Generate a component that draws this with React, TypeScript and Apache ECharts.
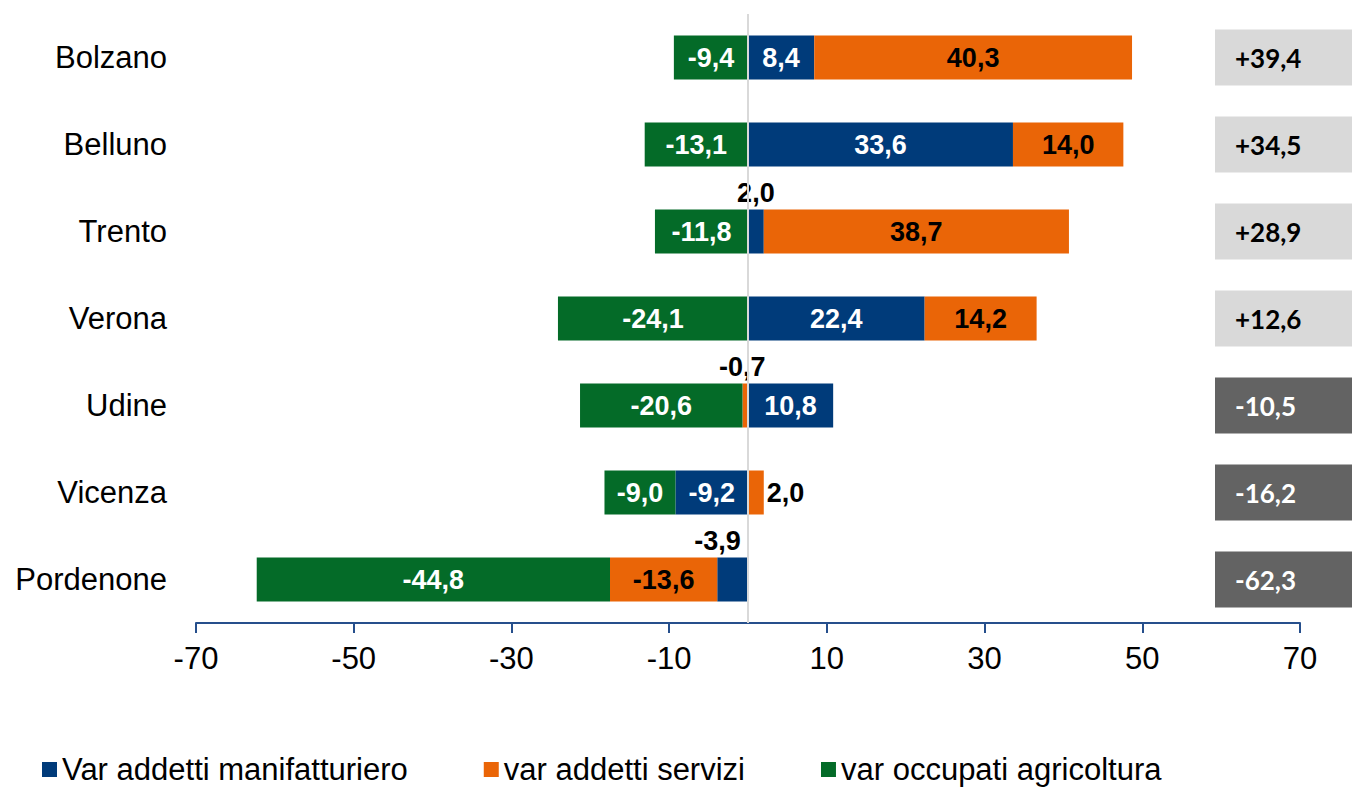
import React, { useEffect, useRef } from "react";
import * as echarts from "echarts";

const categories = ["Bolzano", "Belluno", "Trento", "Verona", "Udine", "Vicenza", "Pordenone"];
const manifatturiero = [8.4, 33.6, 2.0, 22.4, 10.8, -9.2, -3.9];
const servizi = [40.3, 14.0, 38.7, 14.2, -0.7, 2.0, -13.6];
const agricoltura = [-9.4, -13.1, -11.8, -24.1, -20.6, -9.0, -44.8];
const totals = [39.4, 34.5, 28.9, 12.6, -10.5, -16.2, -62.3];
const seriesNames = ["Var addetti manifatturiero", "var addetti servizi", "var occupati agricoltura"];
const xMin = -70;
const xMax = 70;
const xInterval = 20;

const BLUE = "#003B7A";
const ORANGE = "#EA6507";
const GREEN = "#046B28";

const fmt = (v: number) => v.toFixed(1).replace(".", ",");
const fmtTotal = (v: number) => (v > 0 ? "+" : "") + fmt(v);

const ARIAL = "'Liberation Sans', Arial, sans-serif";

// outside-label overrides: series -> index -> label cfg
const outside: Record<string, Record<number, any>> = {
  manif: {
    2: { position: "top", distance: 3, color: "#000" },
    6: { position: "top", distance: 3, color: "#000", offset: [-15, 0] },
  },
  serv: {
    4: { position: "top", distance: 3, color: "#000", offset: [-3, 0] },
    5: { position: "right", distance: 3, color: "#000" },
  },
  agri: {},
};

function buildData(values: number[], key: string) {
  return values.map((v, i) => {
    const o = outside[key][i];
    return o ? { value: v, label: o } : v;
  });
}

export default function App() {
  const ref = useRef<HTMLDivElement>(null);
  useEffect(() => {
    document.body.style.margin = "0";
    const chart = echarts.init(ref.current!, null, { renderer: "svg" });
    const labelBase = {
      show: true,
      position: "inside",
      fontFamily: ARIAL,
      fontWeight: "bold",
      fontSize: 27,
      formatter: (p: any) => fmt(typeof p.value === "number" ? p.value : p.data.value),
    };
    const barCommon = {
      type: "bar",
      stack: "tot",
      barWidth: 44,
      xAxisIndex: 0,
      yAxisIndex: 0,
    };
    chart.setOption({
      animation: false,
      grid: [
        { left: 196, right: 52, top: 14, bottom: 164, containLabel: false },
        { left: 1215, right: 0, top: 14, bottom: 164, containLabel: false },
      ],
      legend: {
        data: seriesNames,
        left: 37,
        top: 749,
        itemWidth: 15,
        itemHeight: 15,
        itemGap: 76,
        icon: "rect",
        textStyle: { fontFamily: ARIAL, fontSize: 31, color: "#000" },
      },
      xAxis: [
        {
          type: "value",
          gridIndex: 0,
          min: xMin,
          max: xMax,
          interval: xInterval,
          axisLine: { show: true, onZero: false, lineStyle: { color: "#264F8C", width: 2 } },
          axisTick: { show: true, length: 10, lineStyle: { color: "#264F8C", width: 2 } },
          splitLine: { show: false },
          axisLabel: { fontFamily: ARIAL, fontSize: 31, color: "#000", margin: 20 },
        },
        { type: "value", gridIndex: 1, min: 0, max: 1, show: false, splitLine: { show: false } },
      ],
      yAxis: [
        {
          type: "category",
          gridIndex: 0,
          data: categories,
          inverse: true,
          axisLine: { show: false, onZero: false },
          axisTick: { show: false },
          axisLabel: { fontFamily: ARIAL, fontSize: 31, color: "#000", margin: 29 },
        },
        { type: "category", gridIndex: 1, data: categories, inverse: true, show: false },
      ],
      series: [
        {
          ...barCommon,
          name: seriesNames[0],
          data: buildData(manifatturiero, "manif"),
          itemStyle: { color: BLUE },
          label: { ...labelBase, color: "#fff" },
        },
        {
          ...barCommon,
          name: seriesNames[1],
          data: buildData(servizi, "serv"),
          itemStyle: { color: ORANGE },
          label: { ...labelBase, color: "#000" },
        },
        {
          ...barCommon,
          name: seriesNames[2],
          data: buildData(agricoltura, "agri"),
          itemStyle: { color: GREEN },
          label: { ...labelBase, color: "#fff" },
          markLine: {
            silent: true,
            symbol: ["none", "none"],
            label: { show: false },
            lineStyle: { color: "#D9D9D9", width: 2, type: "solid" },
            data: [{ xAxis: 0 }],
          },
        },
        {
          type: "bar",
          name: "totale",
          xAxisIndex: 1,
          yAxisIndex: 1,
          barWidth: 56,
          data: totals.map((t) => ({
            value: 1,
            itemStyle: { color: t >= 0 ? "#D9D9D9" : "#636363" },
            label: { color: t >= 0 ? "#000" : "#fff" },
          })),
          label: {
            show: true,
            position: "insideLeft",
            distance: 20,
            fontFamily: "Lato, 'Open Sans', sans-serif",
            fontWeight: "bold",
            fontSize: 26,
            formatter: (p: any) => fmtTotal(totals[p.dataIndex]),
          },
        },
      ],
    });
    return () => chart.dispose();
  }, []);
  return <div ref={ref} style={{ width: 1352, height: 787 }} />;
}
